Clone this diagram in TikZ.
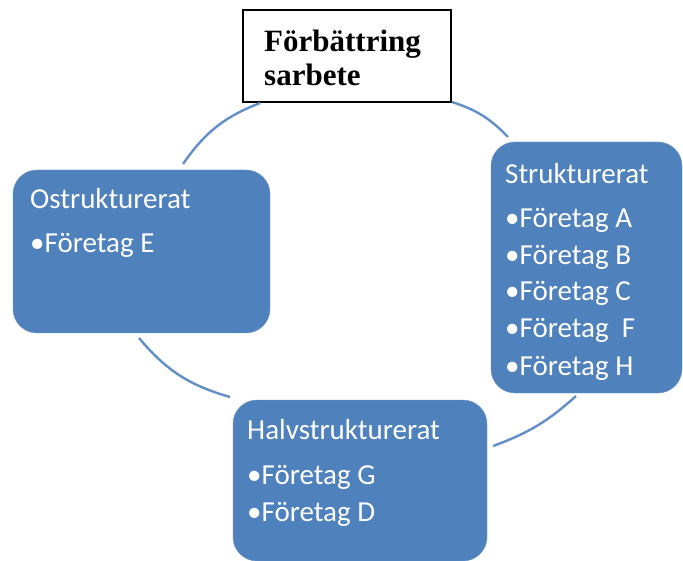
\documentclass[tikz,border=0pt]{standalone}
\usepackage{fontspec}
\setmainfont{Liberation Serif}
\newfontfamily\boxfont{Carlito}
\usetikzlibrary{positioning}
\definecolor{boxblue}{RGB}{79,129,189}
\definecolor{arcblue}{RGB}{98,143,200}

\begin{document}
\begin{tikzpicture}[x=1pt,y=1pt,
  box/.style={rectangle,rounded corners=24pt,fill=boxblue,draw=boxblue!85!white,inner sep=0pt},
  txt/.style={text=white,font=\boxfont\fontsize{29}{37}\selectfont,align=left,inner sep=0pt,anchor=base west},
  cyc/.style={draw=arcblue,line width=2.4pt,bend left=#1}]
\useasboundingbox (0,0) rectangle (683,-561);

\node[draw=black,fill=white,line width=1.3pt,minimum width=208pt,minimum height=92pt] (goal) at (347,-56) {};
\node[box,minimum width=257pt,minimum height=163pt] (ostr) at (141.5,-251.5) {};
\node[box,minimum width=191pt,minimum height=251pt] (strukt) at (586.5,-267.5) {};
\node[box,minimum width=254pt,minimum height=161pt] (halv) at (360,-480.5) {};

\node[anchor=base west,inner sep=0pt,align=left,font=\fontsize{31}{34}\selectfont\bfseries] (goaltxt) at (264,-86) {Förbättring\\sarbete};
\node[txt] (ostrtxt) at (30,-253) {Ostrukturerat\\[7pt]•Företag E};
\node[txt] (strukttxt) at (505,-375) {Strukturerat\\[7pt]•Företag A\\•Företag B\\•Företag C\\•Företag\ \ F\\•Företag H};
\node[txt] (halvtxt) at (247,-521) {Halvstrukturerat\\[8pt]•Företag G\\•Företag D};

\coordinate (a1) at (183,-164);
\coordinate (a2) at (260,-103);
\coordinate (b1) at (452,-102);
\coordinate (b2) at (508,-137);
\coordinate (c1) at (576,-396);
\coordinate (c2) at (493,-446);
\coordinate (d1) at (230,-397);
\coordinate (d2) at (139,-338);

\draw[cyc=17] (a1) to (a2);
\draw[cyc=14] (b1) to (b2);
\draw[cyc=11] (c1) to (c2);
\draw[cyc=17] (d1) to (d2);
\end{tikzpicture}
\end{document}
